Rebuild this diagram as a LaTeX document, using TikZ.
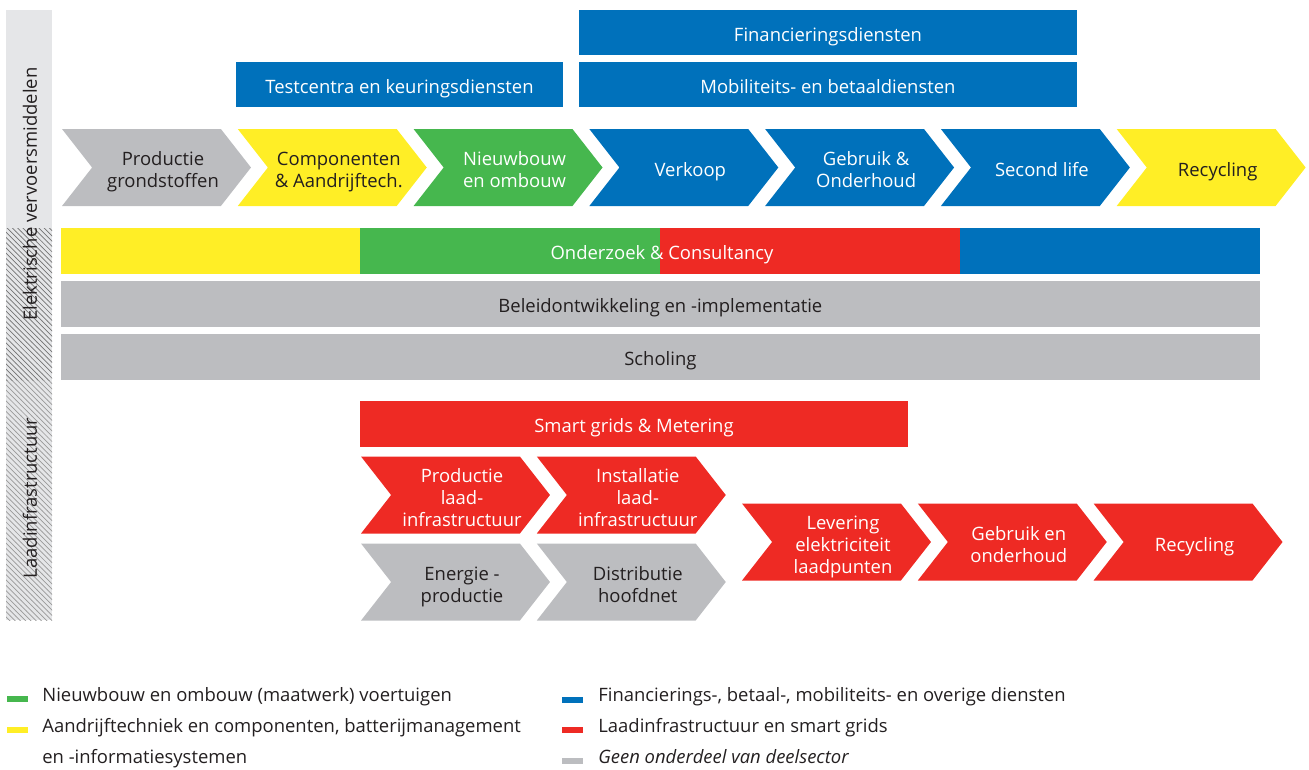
\documentclass[tikz,border=0pt]{standalone}
\usepackage{fontspec}
\setmainfont{Open Sans}
\usetikzlibrary{shapes.symbols}
\usetikzlibrary{chains}
\usetikzlibrary{patterns}
\usetikzlibrary{positioning}

\definecolor{rvoblauw}{RGB}{0,113,187}
\definecolor{rvogeel}{RGB}{255,238,38}
\definecolor{rvogroen}{RGB}{70,183,78}
\definecolor{rvorood}{RGB}{238,42,36}
\definecolor{rvogrijs}{RGB}{188,189,192}
\definecolor{rvolicht}{RGB}{229,230,232}
\definecolor{rvotekst}{RGB}{35,31,32}

% text of a chain step, a little right of and below the centre
\newcommand{\staptekst}[1]{\hspace*{0.26cm}\makebox[0pt]{\raisebox{-0.1cm}[\height][\depth]{\begin{tabular}{@{}c@{}}#1\end{tabular}}}}

\begin{document}
\begin{tikzpicture}[
	x=0.02cm, y=-0.02cm,
	start chain=1 going right,
	start chain=2 going right,
	start chain=3 going right,
	start chain=4 going right,
	node distance=0.32cm,
	every node/.style={font=\fontsize{10.5}{12.5}\selectfont, text=rvotekst},
	stap/.style={
		shape=signal,
		signal from=west,
		signal to=east,
		signal pointer angle=104,
		minimum width=3.78cm,
		minimum height=1.54cm,
		inner sep=0pt
	},
	balk/.style={
		rectangle,
		inner sep=0pt,
		outer sep=0pt,
		text height=9.7pt,
		text depth=0pt,
		minimum height=0.92cm,
		anchor=north west
	},
	merk/.style={
		rectangle,
		inner sep=0pt,
		minimum width=0.42cm,
		minimum height=0.12cm
	},
	legenda/.style={
		inner sep=0pt,
		anchor=base west
	},
	grijs/.style={fill=rvogrijs},
	geel/.style={fill=rvogeel},
	groen/.style={fill=rvogroen, text=white},
	blauw/.style={fill=rvoblauw, text=white},
	rood/.style={fill=rvorood, text=white}
]
\useasboundingbox (0,0) rectangle (1309,769);

% Side bars
\fill [rvolicht] (6,10) rectangle (52,228);
\fill [rvolicht] (6,228) rectangle (52,620);
\fill [pattern=north west lines, pattern color=black!55] (6,228) rectangle (52,380);
\fill [pattern=north west lines, pattern color=black!40] (6,380) rectangle (52,620);
\node [rotate=90] (evm) at (30,194) {Elektrische vervoersmiddelen};
\node [rotate=90] (laad) at (30,498) {Laadinfrastructuur};

% Services
\node [balk, blauw, minimum width=9.96cm, minimum height=0.9cm] (financiering) at (579,10) {Financieringsdiensten};
\node [balk, blauw, minimum width=9.96cm, minimum height=0.9cm] (mobiliteit) at (579,62) {Mobiliteits- en betaaldiensten};
\node [balk, blauw, minimum width=6.54cm, minimum height=0.9cm] (testcentra) at (236,62) {Testcentra en keuringsdiensten};

% Value chain vehicles
\node [stap, grijs, on chain=1] (grondstoffen) at (156.5,167.5) {\staptekst{Productie\\grondstoffen}};
\node [stap, geel, on chain=1] (componenten) {\staptekst{Componenten\\\& Aandrijftech.}};
\node [stap, groen, on chain=1] (nieuwbouw) {\staptekst{Nieuwbouw\\en ombouw}};
\node [stap, blauw, on chain=1] (verkoop) {\staptekst{Verkoop}};
\node [stap, blauw, on chain=1] (gebruik) {\staptekst{Gebruik \&\\Onderhoud}};
\node [stap, blauw, on chain=1] (secondlife) {\staptekst{Second life}};
\node [stap, geel, on chain=1] (recycling) {\staptekst{Recycling}};

% Cross-cutting bars
\node [balk, geel, minimum width=5.98cm] (onderzoek1) at (61,228) {};
\node [balk, groen, minimum width=6cm, right=0pt of onderzoek1] (onderzoek2) {};
\node [balk, rood, minimum width=6cm, right=0pt of onderzoek2] (onderzoek3) {};
\node [balk, blauw, minimum width=6cm, right=0pt of onderzoek3] (onderzoek4) {};
\node [text=white, text height=9.7pt, text depth=0pt] (onderzoek) at (662,251) {Onderzoek \& Consultancy};
\node [balk, grijs, minimum width=23.98cm] (beleid) at (61,281) {Beleidontwikkeling en -implementatie};
\node [balk, grijs, minimum width=23.98cm] (scholing) at (61,334) {Scholing};

% Charging infrastructure
\node [balk, rood, minimum width=10.96cm] (smartgrids) at (360,401) {Smart grids \& Metering};
\node [stap, rood, on chain=2] (productielaad) at (455.5,495) {\staptekst{Productie\\laad-\\infrastructuur}};
\node [stap, rood, on chain=2] (installatie) {\staptekst{Installatie\\laad-\\infrastructuur}};
\node [stap, grijs, on chain=3] (energie) at (455.5,582) {\staptekst{Energie -\\productie}};
\node [stap, grijs, on chain=3] (distributie) {\staptekst{Distributie\\hoofdnet}};
\node [stap, rood, on chain=4] (levering) at (836.5,542) {\staptekst{Levering\\elektriciteit\\laadpunten}};
\node [stap, rood, on chain=4] (gebruiklaad) {\staptekst{Gebruik en\\onderhoud}};
\node [stap, rood, on chain=4] (recyclinglaad) {\staptekst{Recycling}};

% Legend
\node [merk, fill=rvogroen] (mgroen) at (17.5,699) {};
\node [legenda] (lgroen) at (42,701) {Nieuwbouw en ombouw (maatwerk) voertuigen};
\node [merk, fill=rvogeel] (mgeel) at (17.5,729.5) {};
\node [legenda] (lgeel) at (42,732) {Aandrijftechniek en componenten, batterijmanagement};
\node [legenda] (lgeel2) at (42,763) {en -informatiesystemen};
\node [merk, fill=rvoblauw] (mblauw) at (572.5,699.5) {};
\node [legenda] (lblauw) at (598,701) {Financierings-, betaal-, mobiliteits- en overige diensten};
\node [merk, fill=rvorood] (mrood) at (572.5,729.5) {};
\node [legenda] (lrood) at (598,732) {Laadinfrastructuur en smart grids};
\node [merk, fill=rvogrijs] (mgrijs) at (572.5,761) {};
\node [legenda, font=\fontsize{10.5}{12.5}\selectfont\itshape] (lgrijs) at (598,763) {Geen onderdeel van deelsector};
\end{tikzpicture}
\end{document}
